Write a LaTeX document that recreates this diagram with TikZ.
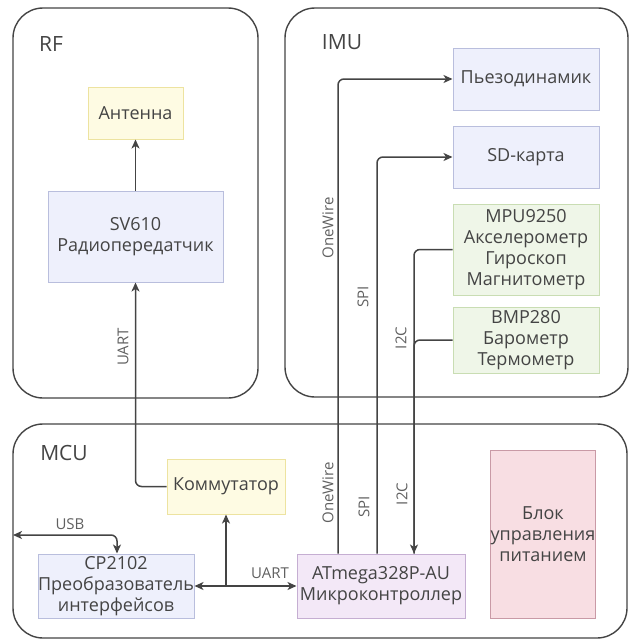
\documentclass[tikz,border=0pt]{standalone}
\usepackage{fontspec}
\setmainfont{Open Sans}
\usetikzlibrary{arrows.meta}
\definecolor{yfill}{HTML}{FEFBE3}
\definecolor{ydraw}{HTML}{EDE3A0}
\definecolor{bfill}{HTML}{EEF0FC}
\definecolor{bdraw}{HTML}{B9BEDD}
\definecolor{gfill}{HTML}{EFF6E8}
\definecolor{gdraw}{HTML}{C9DDB3}
\definecolor{pfill}{HTML}{F3E8F7}
\definecolor{pdraw}{HTML}{C5AED2}
\definecolor{rfill}{HTML}{F8DEE3}
\definecolor{rdraw}{HTML}{C99AA6}
\definecolor{linec}{HTML}{444444}
\definecolor{textc}{HTML}{444444}
\definecolor{lblc}{HTML}{606060}
\begin{document}
\begin{tikzpicture}[x=1pt,y=-1pt,
  container/.style={draw=linec,line width=1.4pt,rounded corners=30pt,inner sep=0pt},
  title/.style={font=\fontsize{21}{24}\selectfont,text=textc,inner sep=0pt},
  box/.style={draw,line width=1pt,inner sep=0pt,align=center,text=textc,font=\fontsize{18}{21}\selectfont},
  ybox/.style={box,fill=yfill,draw=ydraw},
  bbox/.style={box,fill=bfill,draw=bdraw},
  gbox/.style={box,fill=gfill,draw=gdraw},
  pbox/.style={box,fill=pfill,draw=pdraw},
  rbox/.style={box,fill=rfill,draw=rdraw},
  conn/.style={draw=linec,line width=1.5pt,rounded corners=6pt},
  tip/.style={-{Stealth[length=9pt,width=8pt,inset=2.5pt]}},
  tips/.style={{Stealth[length=9pt,width=8pt,inset=2.5pt]}-{Stealth[length=9pt,width=8pt,inset=2.5pt]}},
  lbl/.style={font=\fontsize{15}{18}\selectfont,text=lblc,inner sep=0pt}
]
\useasboundingbox (0,0) rectangle (629,641);
% containers
\node[container,minimum width=245pt,minimum height=390pt] (rf) at (135.5,203) {};
\node[container,minimum width=343pt,minimum height=389pt] (imu) at (456.5,202.5) {};
\node[container,minimum width=614pt,minimum height=214pt] (mcu) at (320,531) {};
\node[title] (rft) at (51,44) {RF};
\node[title] (imut) at (342,42) {IMU};
\node[title] (mcut) at (64,453) {MCU};
% RF
\node[ybox,minimum width=95pt,minimum height=52pt] (ant) at (135.5,113) {Антенна};
\node[bbox,minimum width=175pt,minimum height=91pt] (sv) at (135.5,236.5) {SV610\\Радиопередатчик};
% IMU
\node[bbox,minimum width=146pt,minimum height=62pt] (piezo) at (526,79) {Пьезодинамик};
\node[bbox,minimum width=146pt,minimum height=62pt] (sd) at (526,157) {SD-карта};
\node[gbox,minimum width=146pt,minimum height=91pt] (mpu) at (526,249.5) {MPU9250\\Акселерометр\\Гироскоп\\Магнитометр};
\node[gbox,minimum width=146pt,minimum height=66pt] (bmp) at (526,340) {BMP280\\Барометр\\Термометр};
% MCU
\node[ybox,minimum width=118pt,minimum height=55pt] (komm) at (226,486.5) {Коммутатор};
\node[bbox,minimum width=156pt,minimum height=64pt] (cp) at (116,586) {CP2102\\Преобразователь\\интерфейсов};
\node[pbox,minimum width=168pt,minimum height=64pt] (atm) at (381,586) {ATmega328P-AU\\Микроконтроллер};
\node[rbox,minimum width=104pt,minimum height=168pt] (pwr) at (543,534) {Блок\\управления\\питанием};
\coordinate (usbend) at (13,535);
% connectors
\draw[conn,tip] (sv.north) -- (ant.south);
\draw[conn,tip] (komm.west) -| (sv.south);
\draw[conn,tip] ([xshift=-43pt]atm.north) |- (piezo.west);
\draw[conn,tip] ([xshift=-4pt]atm.north) |- (sd.west);
\draw[conn,tip] (mpu.west) -| ([xshift=33pt]atm.north);
\draw[conn] (bmp.west) -| ([xshift=33pt]atm.north);
\draw[conn,tips] (usbend) -| ([xshift=1pt]cp.north);
\draw[conn,tips] (cp.east) -- (atm.west);
\draw[conn,tip] (cp.east -| komm.south) -- (komm.south);
% labels
\node[lbl,rotate=90] (l1) at (123,347) {UART};
\node[lbl,rotate=90] (l2) at (328,228) {OneWire};
\node[lbl,rotate=90] (l3) at (363,297) {SPI};
\node[lbl,rotate=90] (l4) at (401,338) {I2C};
\node[lbl,rotate=90] (l5) at (328,493) {OneWire};
\node[lbl,rotate=90] (l6) at (364,507) {SPI};
\node[lbl,rotate=90] (l7) at (402,494) {I2C};
\node[lbl] (l8) at (70,524) {USB};
\node[lbl] (l9) at (270,573) {UART};
\end{tikzpicture}
\end{document}
